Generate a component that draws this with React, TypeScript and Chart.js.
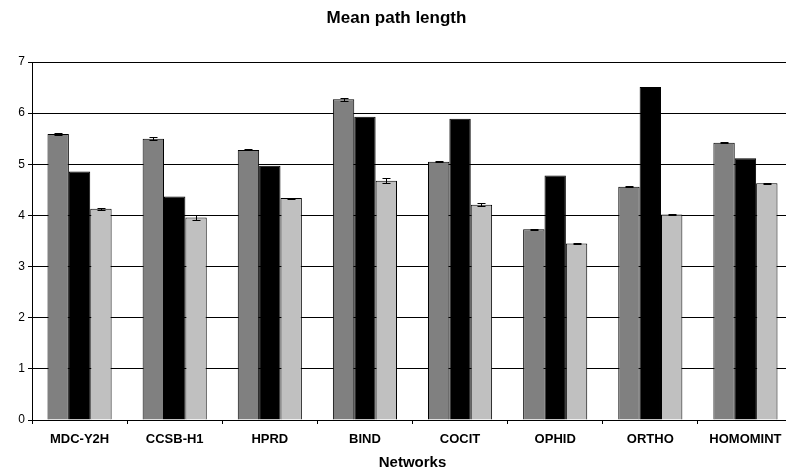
import React, { useEffect, useRef } from 'react';
import { Chart, registerables } from 'chart.js';

Chart.register(...registerables);

const categories = ['MDC-Y2H', 'CCSB-H1', 'HPRD', 'BIND', 'COCIT', 'OPHID', 'ORTHO', 'HOMOMINT'];
const seriesA = [5.59, 5.5, 5.28, 6.27, 5.05, 3.73, 4.56, 5.42];
const seriesAErr = [0.02, 0.03, 0.01, 0.03, 0.01, 0.006, 0.006, 0.01];
const seriesB = [4.86, 4.37, 4.97, 5.93, 5.89, 4.78, 6.51, 5.12];
const seriesC = [4.13, 3.96, 4.34, 4.68, 4.21, 3.45, 4.02, 4.63];
const seriesCErr = [0.02, 0.04, 0.01, 0.05, 0.03, 0.01, 0.01, 0.01];
const yMin = 0;
const yMax = 7;
const yStep = 1;

const FONT = "'Liberation Sans', Arial, sans-serif";

const errorBarPlugin = {
  id: 'errorBars',
  afterDatasetsDraw(chart: any) {
    const ctx = chart.ctx;
    const yScale = chart.scales.y;
    const sets: [number, number[]][] = [
      [0, seriesAErr],
      [2, seriesCErr],
    ];
    ctx.save();
    ctx.strokeStyle = '#000';
    ctx.lineWidth = 1;
    for (const [idx, errs] of sets) {
      const meta = chart.getDatasetMeta(idx);
      const data = chart.data.datasets[idx].data as number[];
      meta.data.forEach((bar: any, i: number) => {
        const v = data[i];
        const e = errs[i];
        const x = Math.round(bar.x) + 0.5;
        const top = Math.round(yScale.getPixelForValue(v + e)) + 0.5;
        const bot = Math.round(yScale.getPixelForValue(v - e)) + 0.5;
        ctx.beginPath();
        ctx.moveTo(x, top);
        ctx.lineTo(x, bot);
        ctx.moveTo(x - 4, top);
        ctx.lineTo(x + 4, top);
        ctx.moveTo(x - 4, bot);
        ctx.lineTo(x + 4, bot);
        ctx.stroke();
      });
    }
    ctx.restore();
  },
};

export default function App() {
  const canvasRef = useRef<HTMLCanvasElement | null>(null);

  useEffect(() => {
    if (!canvasRef.current) return;
    Chart.defaults.font.family = FONT;
    const chart = new Chart(canvasRef.current, {
      type: 'bar',
      data: {
        labels: categories,
        datasets: [
          { label: 'A', data: seriesA, backgroundColor: '#808080', borderColor: '#000', borderWidth: 1 },
          { label: 'B', data: seriesB, backgroundColor: '#000000', borderColor: '#000', borderWidth: 1 },
          { label: 'C', data: seriesC, backgroundColor: '#C0C0C0', borderColor: '#000', borderWidth: 1 },
        ],
      },
      options: {
        responsive: false,
        animation: false,
        layout: { padding: { left: 0, right: 7, top: 0, bottom: 0 } },
        datasets: { bar: { categoryPercentage: 0.674, barPercentage: 1 } },
        plugins: {
          legend: { display: false },
          tooltip: { enabled: false },
          title: {
            display: true,
            text: 'Mean path length',
            color: '#000',
            font: { family: FONT, size: 17, weight: 'bold' },
            padding: { top: 8, bottom: 33.6 },
          },
        },
        scales: {
          x: {
            type: 'category',
            offset: true,
            grid: {
              display: true,
              drawOnChartArea: false,
              drawTicks: true,
              tickLength: 4,
              color: '#000',
              offset: true,
            },
            border: { display: true, color: '#000', width: 1 },
            ticks: {
              color: '#000',
              font: { family: FONT, size: 13, weight: 'bold' },
              padding: 8,
              autoSkip: false,
              maxRotation: 0,
            },
            title: {
              display: true,
              text: 'Networks',
              color: '#000',
              font: { family: FONT, size: 15, weight: 'bold', lineHeight: 1 },
              padding: { top: 0, bottom: 0 },
            },
            afterFit: (s: any) => {
              s.height = 50;
            },
          },
          y: {
            min: yMin,
            max: yMax,
            ticks: {
              stepSize: yStep,
              color: '#000',
              font: { family: FONT, size: 12 },
              padding: 3,
            },
            grid: { color: '#000', tickLength: 4, drawTicks: true },
            border: { display: true, color: '#000', width: 1 },
            afterFit: (s: any) => {
              s.width = 32;
            },
          },
        },
      },
      plugins: [errorBarPlugin],
    });
    return () => chart.destroy();
  }, []);

  return (
    <div
      style={{
        position: 'fixed',
        left: 0,
        top: 0,
        width: 786,
        height: 470,
        overflow: 'hidden',
        background: '#fff',
      }}
    >
      <canvas ref={canvasRef} width={800} height={470} style={{ display: 'block' }} />
    </div>
  );
}
